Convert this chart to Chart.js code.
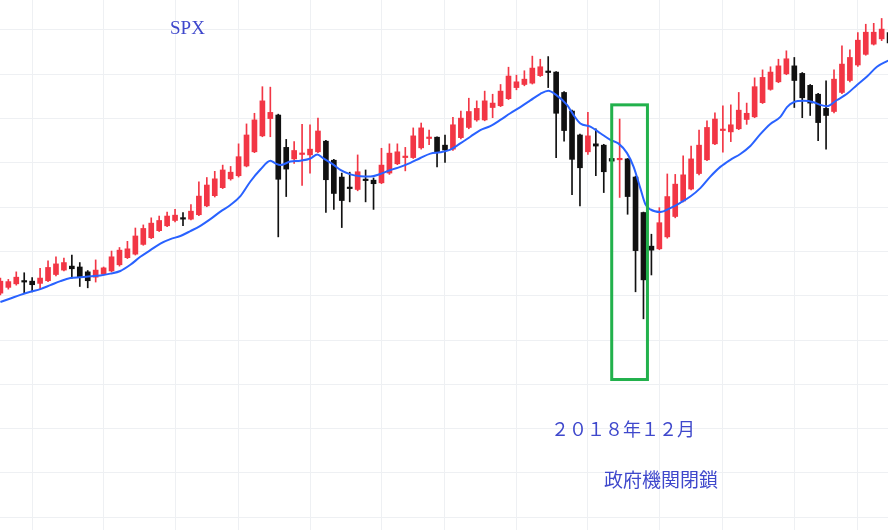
<!DOCTYPE html>
<html lang="ja">
<head>
<meta charset="UTF-8">
<title>SPX</title>
<script src="https://cdn.jsdelivr.net/npm/chart.js"></script>
<style>
  html, body { margin: 0; padding: 0; background: #fff; }
  #wrap { position: relative; width: 888px; height: 530px; }
  .note { position: absolute; color: #3f48cc; white-space: nowrap; line-height: 1; }
  #spx { left: 170px; top: 17px; font: 19px "Liberation Serif", "DejaVu Serif", serif; }
  #month { left: 551px; top: 415px; font: 18px "Noto Sans CJK JP", sans-serif; }
  #shutdown { left: 604px; top: 465px; font: 19px "Noto Sans CJK JP", sans-serif; }
</style>
</head>
<body>
<div id="wrap">
  <canvas id="chart" width="888" height="530"></canvas>
  <div class="note" id="spx">SPX</div>
  <div class="note" id="month">２０１８年１２月</div>
  <div class="note" id="shutdown">政府機関閉鎖</div>
</div>

<script>
// weekly candles
const opens  = [2406,2419,2427,2433,2433,2428,2434,2448,2458,2467,2465,2454,2442,2449,2456,2470,2486,2494,2516,2531,
                2547,2558,2570,2575,2573,2583,2603,2626,2644,2664,2671,2693,2725,2761,2800,2808,2735,2709,2719,2718,
                2725,2749,2706,2668,2643,2640,2661,2661,2655,2677,2698,2712,2712,2734,2755,2758,2740,2731,2757,2780,
                2797,2797,2825,2829,2845,2870,2877,2880,2897,2907,2905,2859,2817,2763,2725,2743,2740,2710,2707,2709,
                2668,2588,2512,2506,2533,2579,2614,2641,2676,2707,2743,2773,2770,2777,2798,2804,2836,2866,2883,2901,
                2919,2902,2875,2855,2823,2816,2859,2886,2921,2945,2968,2980,2994];
const highs  = [2440,2437,2454,2452,2441,2462,2479,2488,2485,2492,2475,2457,2481,2465,2501,2509,2523,2553,2560,2576,
                2580,2589,2595,2588,2606,2657,2667,2681,2695,2692,2743,2788,2812,2872,2871,2810,2753,2748,2787,2786,
                2801,2751,2708,2677,2679,2718,2684,2666,2733,2743,2743,2735,2779,2790,2774,2759,2763,2803,2817,2846,
                2840,2862,2855,2877,2916,2898,2908,2941,2934,2940,2906,2861,2819,2765,2814,2777,2742,2716,2799,2710,
                2670,2589,2539,2599,2675,2674,2716,2738,2774,2795,2813,2829,2831,2859,2835,2892,2910,2917,2934,2953,
                2938,2904,2877,2857,2885,2910,2964,2955,2994,3013,3015,3026,3000];
const lows   = [2402,2415,2424,2406,2409,2415,2432,2445,2456,2440,2421,2418,2431,2447,2454,2467,2484,2492,2514,2529,
                2545,2556,2567,2558,2571,2581,2601,2623,2642,2661,2668,2691,2723,2759,2759,2533,2624,2699,2649,2677,
                2723,2588,2595,2554,2612,2637,2612,2595,2653,2674,2696,2682,2710,2731,2741,2691,2701,2728,2754,2777,
                2794,2795,2802,2827,2843,2865,2874,2878,2895,2870,2712,2749,2628,2603,2719,2671,2633,2700,2622,2584,
                2409,2348,2447,2504,2530,2576,2612,2639,2673,2705,2741,2724,2748,2775,2787,2802,2834,2864,2881,2899,
                2825,2802,2807,2750,2731,2813,2856,2883,2918,2943,2966,2976,2960];
const closes = [2433,2432,2442,2431,2425,2440,2464,2472,2475,2461,2443,2434,2458,2463,2488,2503,2506,2535,2552,2564,
                2570,2580,2582,2573,2591,2625,2650,2664,2684,2679,2714,2763,2797,2840,2814,2663,2686,2728,2721,2731,
                2772,2662,2631,2615,2642,2680,2660,2653,2695,2722,2725,2713,2761,2779,2758,2723,2729,2786,2801,2816,
                2823,2840,2835,2862,2896,2883,2889,2914,2917,2904,2812,2773,2708,2689,2761,2738,2680,2704,2710,2624,
                2502,2436,2503,2565,2624,2652,2673,2709,2740,2780,2799,2774,2786,2819,2812,2872,2893,2905,2919,2935,
                2886,2847,2835,2791,2807,2889,2923,2938,2977,2995,2995,3002,2971];

// moving average line (x = candle position)
const maX = [0,1.26,2.52,3.78,5.04,6.3,7.56,8.82,10.08,11.34,12.59,13.85,15.11,16.37,17.63,18.89,20.15,21.41,22.67,23.93,
             25.19,26.45,27.71,28.97,30.23,31.49,32.75,34.01,34.63,35.26,36.52,37.78,39.04,39.92,40.68,41.94,42.82,44.08,45.34,46.6,
             47.86,49.12,50.38,51.64,52.9,54.16,55.42,56.68,57.93,59.19,60.45,61.71,62.97,64.23,65.49,66.75,68.01,69.02,70.03,71.37,
             72.2,73.05,74.31,75.57,76.83,77.83,78.93,79.76,80.6,81.23,81.86,83.12,84.38,85.64,86.9,88.16,89.42,90.68,91.94,93.2,
             94.46,95.72,96.98,98.24,99.08,99.91,101.17,102.43,103.27,104.12,105.38,106.64,107.9,109.16,110.41,111.84];
const maY = [2386,2394,2402,2409,2415,2424,2433,2440,2442,2444,2446,2450,2456,2470,2488,2503,2518,2528,2535,2546,
             2558,2573,2590,2605,2625,2658,2685,2705,2699,2695,2703,2705,2710,2719,2710,2696,2684,2674,2670,2669,
             2675,2684,2691,2700,2711,2721,2724,2730,2744,2759,2774,2783,2797,2812,2826,2841,2856,2863,2853,2831,
             2808,2789,2782,2767,2752,2744,2722,2691,2643,2607,2595,2589,2598,2610,2624,2643,2669,2691,2707,2720,
             2738,2765,2788,2804,2826,2837,2840,2837,2831,2828,2842,2856,2876,2895,2917,2931];

// horizontal grid every 100 points, vertical grid at these candle positions
const priceGrid = [1900,2000,2100,2200,2300,2400,2500,2600,2700,2800,2900,3000];
const timeGrid = [4,13,22,30,39,48,56,65,74,83,91,100,108];

// highlighted box: candle span and price span
const boxX = [77.0, 81.5];
const boxY = [2211, 2831];

const upColor = '#f23645';
const downColor = '#111111';
const candleColors = closes.map((c, i) => c >= opens[i] ? upColor : downColor);

const boxPlugin = {
  id: 'box',
  afterDatasetsDraw(chart) {
    const { ctx, scales: { x, y } } = chart;
    const x0 = x.getPixelForValue(boxX[0]), x1 = x.getPixelForValue(boxX[1]);
    const y0 = y.getPixelForValue(boxY[1]), y1 = y.getPixelForValue(boxY[0]);
    ctx.save();
    ctx.strokeStyle = '#22b14c';
    ctx.lineWidth = 3;
    ctx.strokeRect(x0, y0, x1 - x0, y1 - y0);
    ctx.restore();
  }
};

new Chart(document.getElementById('chart'), {
  data: {
    datasets: [
      {
        type: 'line',
        label: 'MA',
        data: maX.map((v, i) => ({ x: v, y: maY[i] })),
        borderColor: '#2962ff',
        borderWidth: 2,
        pointRadius: 0,
        cubicInterpolationMode: 'monotone',
        order: 0
      },
      {
        type: 'bar',
        label: 'body',
        data: opens.map((o, i) => ({ x: i, y: [o, closes[i]] })),
        backgroundColor: candleColors,
        barThickness: 5,
        minBarLength: 1.5,
        grouped: false,
        order: 1
      },
      {
        type: 'bar',
        label: 'wick',
        data: lows.map((l, i) => ({ x: i, y: [l, highs[i]] })),
        backgroundColor: candleColors,
        barThickness: 1,
        grouped: false,
        order: 2
      }
    ]
  },
  options: {
    responsive: false,
    animation: false,
    devicePixelRatio: 1,
    layout: { padding: 0 },
    plugins: { legend: { display: false }, tooltip: { enabled: false } },
    scales: {
      x: {
        type: 'linear',
        offset: false,
        min: -0.05,
        max: 111.8,
        afterBuildTicks: s => { s.ticks = timeGrid.map(v => ({ value: v })); },
        ticks: { display: false },
        border: { display: false },
        grid: { color: '#eef0f3', drawTicks: false, offset: false }
      },
      y: {
        min: 1871.3,
        max: 3067.7,
        afterBuildTicks: s => { s.ticks = priceGrid.map(v => ({ value: v })); },
        ticks: { display: false },
        border: { display: false },
        grid: { color: '#eef0f3', drawTicks: false }
      }
    }
  },
  plugins: [boxPlugin]
});
</script>
</body>
</html>
